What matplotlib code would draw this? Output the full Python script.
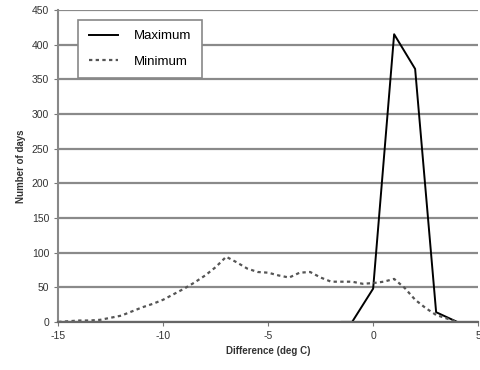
import numpy as np
import matplotlib.pyplot as plt

# maximum temperature difference counts
maxDiff = [-1.5, -1, 0, 1, 2, 3, 4]
maxDays = [0, 0, 48, 415, 365, 14, 0]

# minimum temperature difference counts
minDiff = [-15, -14.5, -14, -13.5, -13, -12.5, -12, -11.5, -11, -10.5, -10,
           -9.5, -9, -8.5, -8, -7.5, -7, -6.5, -6, -5.5, -5, -4.5, -4,
           -3.5, -3, -2.5, -2, -1.5, -1, -0.5, 0, 0.5, 1, 1.5, 2, 2.5, 3,
           3.5, 4]
minDays = [0, 1, 2, 2, 3, 6, 9, 15, 21, 26, 32,
           40, 48, 57, 67, 79, 94, 86, 77, 72, 71, 67, 64,
           71, 72, 64, 58, 58, 58, 55, 56, 58, 62, 49, 32, 20, 10,
           5, 0]

xTicks = [-15, -10, -5, 0, 5]
yTicks = [0, 50, 100, 150, 200, 250, 300, 350, 400, 450]

plt.rcParams['font.family'] = ['Liberation Sans', 'DejaVu Sans']
plt.rcParams['axes.unicode_minus'] = False

fig = plt.figure(figsize=(4.81, 3.70), dpi=100)
ax = fig.add_axes([0.121, 0.130, 0.873, 0.843])

ax.plot(maxDiff, maxDays, color='black', linewidth=1.4, label='Maximum')
ax.plot(minDiff, minDays, color='#555555', linewidth=1.6,
        linestyle=(0, (1.5, 1.5)), label='Minimum')

ax.set_xlim(-15, 5)
ax.set_ylim(0, 450)
ax.set_xticks(xTicks)
ax.set_yticks(yTicks)
ax.tick_params(labelsize=7.5, length=3, color='#777777', labelcolor='#333333')
ax.yaxis.grid(True, color='#8a8a8a', linewidth=1.6)
ax.set_axisbelow(True)

for side in ['top', 'right']:
    ax.spines[side].set_visible(False)
ax.spines['left'].set_color('#888888')
ax.spines['left'].set_linewidth(1.5)
ax.spines['bottom'].set_color('#666666')
ax.spines['bottom'].set_linewidth(1.6)

ax.set_xlabel('Difference (deg C)', fontsize=7, fontweight='bold', color='#333333')
ax.set_ylabel('Number of days', fontsize=7, fontweight='bold', color='#333333')

leg = ax.legend(loc='upper left', bbox_to_anchor=(0.032, 0.99), fontsize=9.5,
                fancybox=False, framealpha=1, edgecolor='#888888',
                handlelength=2.2, borderpad=0.8, labelspacing=1.0,
                handletextpad=1.2)
leg.get_frame().set_linewidth(1.2)

fig.savefig('out.png', dpi=100)
